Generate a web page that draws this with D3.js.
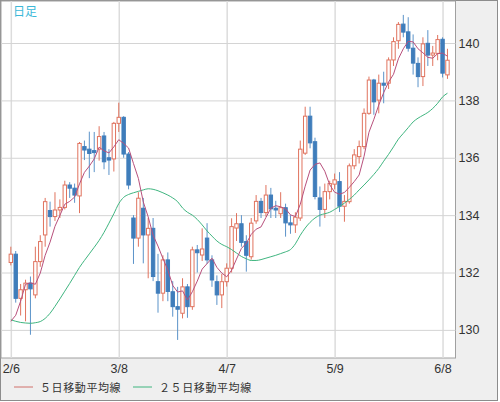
<!DOCTYPE html>
<html>
<head>
<meta charset="utf-8">
<script src="https://cdn.jsdelivr.net/npm/d3@7"></script>
<style>
  body { margin: 0; background: #fff; }
  text { font-family: "Liberation Sans", Arial, sans-serif; }
  .jp { font-family: "Noto Sans CJK JP", sans-serif; }
</style>
</head>
<body>
<script>
// daily candles, Feb 6 - Jun 9
var dates = ["2/6","2/7","2/8","2/9","2/10","2/13","2/14","2/15","2/16","2/17","2/20","2/21","2/22","2/23","2/24","2/27","2/28",
  "3/1","3/2","3/3","3/6","3/7","3/8","3/9","3/10","3/13","3/14","3/15","3/16","3/17","3/20","3/21","3/22","3/23","3/24","3/27","3/28","3/29","3/30","3/31",
  "4/3","4/4","4/5","4/6","4/7","4/10","4/11","4/12","4/13","4/14","4/17","4/18","4/19","4/20","4/21","4/24","4/25","4/26","4/27","4/28",
  "5/1","5/2","5/3","5/4","5/5","5/8","5/9","5/10","5/11","5/12","5/15","5/16","5/17","5/18","5/19","5/22","5/23","5/24","5/25","5/26","5/29","5/30","5/31",
  "6/1","6/2","6/5","6/6","6/7","6/8","6/9"];

var open = [132.35,132.64,131.10,131.40,131.63,131.22,132.38,133.31,134.16,133.95,134.18,134.27,135.05,134.94,134.67,136.39,136.30,
  136.25,136.30,136.76,136.00,135.96,137.20,137.41,136.13,133.90,133.20,134.24,133.31,133.54,131.68,131.28,132.44,131.33,130.81,130.58,131.50,130.81,132.79,132.61,
  133.20,132.44,131.68,131.22,131.68,132.15,133.55,133.70,133.08,132.55,133.80,134.48,134.09,134.70,134.24,134.05,134.26,133.73,133.66,133.90,
  136.16,137.45,136.56,134.60,134.20,134.82,135.08,135.17,134.31,134.47,135.72,136.04,136.39,137.55,138.71,138.01,138.60,138.60,139.41,140.08,140.66,140.39,139.82,
  139.29,138.83,139.99,139.58,139.64,140.13,138.89];
var high = [132.90,132.75,131.60,131.75,131.86,132.90,133.30,134.60,134.47,134.80,134.55,135.20,135.15,135.10,136.55,136.60,136.91,
  136.90,137.10,136.90,136.30,137.25,137.92,137.45,136.20,134.00,134.80,134.60,133.90,133.90,132.65,132.60,132.70,131.70,131.50,131.80,131.60,132.90,132.96,133.54,
  133.72,132.60,131.90,131.95,132.32,133.89,134.07,134.00,133.30,133.90,134.70,134.60,135.05,134.95,134.50,134.80,134.40,134.00,134.10,136.60,
  137.78,137.78,136.70,135.00,135.10,135.20,135.45,135.50,134.70,135.80,136.30,136.60,137.72,138.83,138.75,138.90,139.00,139.50,140.20,140.73,140.98,140.90,140.30,
  139.50,140.20,140.45,139.90,140.28,140.20,139.80];
var low = [132.25,130.95,130.50,130.30,129.83,131.10,132.20,132.90,133.60,133.80,133.90,134.20,134.60,134.43,134.07,135.92,135.29,
  135.50,135.90,135.60,135.40,135.52,136.90,136.00,134.90,132.30,132.90,132.32,131.80,131.70,130.60,131.00,131.00,130.46,129.65,130.40,130.42,130.70,132.00,132.40,
  132.30,131.50,130.87,130.76,131.51,132.00,133.10,132.90,132.03,132.45,133.70,133.90,133.95,133.90,133.90,133.90,133.25,133.35,133.38,133.80,
  136.10,136.33,134.55,133.60,133.90,134.55,134.90,134.11,133.77,134.40,135.60,135.80,136.30,137.50,137.50,137.55,137.90,138.40,139.20,139.80,140.20,139.70,138.90,
  138.46,138.50,139.20,139.20,139.40,138.80,138.75];
var close = [132.64,131.10,131.40,131.63,131.43,132.38,133.08,134.47,133.95,134.18,134.27,135.05,134.94,134.70,136.50,136.27,136.15,
  136.18,136.74,135.86,135.92,137.20,137.41,136.13,135.05,133.20,134.59,133.31,133.54,131.86,131.28,132.44,131.34,130.81,130.72,131.50,130.81,132.79,132.69,132.82,
  132.44,131.74,131.22,131.68,132.15,133.60,133.70,133.05,132.60,133.72,134.48,134.09,134.70,134.22,134.18,134.26,133.73,133.66,133.93,136.30,
  137.45,136.52,134.65,134.20,134.82,135.10,135.23,134.31,134.48,135.72,136.10,136.39,137.55,138.71,137.95,138.60,138.53,139.41,140.05,140.65,140.38,139.82,139.30,
  138.83,139.97,139.58,139.65,140.12,138.95,139.40];

// 5 day and 25 day averages as drawn
var ma5 = [130.30,130.51,131.00,131.59,131.64,131.59,131.98,132.60,133.06,133.61,133.99,134.38,134.48,134.63,135.09,135.49,135.71,
  135.96,136.37,136.24,136.17,136.38,136.63,136.50,136.34,135.80,135.28,134.46,133.94,133.30,132.92,132.49,132.09,131.55,131.32,131.36,131.04,131.33,131.70,132.12,
  132.31,132.50,132.18,131.98,131.85,132.08,132.47,132.84,133.02,133.33,133.51,133.59,133.92,134.24,134.33,134.29,134.22,134.01,133.95,134.38,
  135.01,135.57,135.77,135.82,135.53,135.06,134.80,134.73,134.79,134.97,135.17,135.40,136.05,136.89,137.34,137.84,138.27,138.64,138.91,139.45,139.80,140.06,140.04,
  139.80,139.66,139.50,139.47,139.63,139.65,139.54];
var ma25 = [130.35,130.30,130.26,130.24,130.23,130.25,130.29,130.40,130.58,130.82,131.08,131.35,131.62,131.90,132.18,132.42,132.65,
  132.88,133.12,133.40,133.72,134.05,134.40,134.62,134.72,134.78,134.83,134.88,134.92,134.90,134.85,134.78,134.70,134.60,134.47,134.25,134.10,134.00,133.85,133.66,
  133.45,133.27,133.10,132.98,132.90,132.80,132.68,132.56,132.48,132.42,132.42,132.45,132.50,132.55,132.60,132.66,132.72,132.80,133.00,133.30,
  133.55,133.75,133.90,134.00,134.05,134.10,134.20,134.30,134.42,134.55,134.70,134.88,135.05,135.23,135.42,135.63,135.88,136.12,136.38,136.65,136.85,137.05,137.25,
  137.38,137.48,137.58,137.72,137.90,138.12,138.25];

var xTicks = ["2/6","3/8","4/7","5/9","6/8"];
var yTicks = [130,132,134,136,138,140];

var W = 500, H = 402;
var plot = {left: 1, top: 1, right: 455.5, bottom: 358};

var svg = d3.select("body").append("svg")
    .attr("width", W)
    .attr("height", H);

svg.append("rect")
    .attr("x", 0.5).attr("y", 0.5)
    .attr("width", 497).attr("height", 400)
    .attr("fill", "#efefef")
    .attr("stroke", "#8c8c8c");

svg.append("rect")
    .attr("x", plot.left).attr("y", plot.top)
    .attr("width", plot.right - plot.left).attr("height", plot.bottom - plot.top)
    .attr("fill", "#fff")
    .attr("stroke", "#a0a0a0");

var x = d3.scalePoint()
    .domain(dates)
    .range([plot.left, plot.right])
    .padding(1.82)
    .align(0.55);

var y = d3.scaleLinear()
    .domain([129.02, 141.5])
    .range([plot.bottom, 0]);

// grid + axes
var xAxis = d3.axisBottom(x)
    .tickValues(xTicks)
    .tickSize(-(plot.bottom - plot.top))
    .tickPadding(6);

var gx = svg.append("g")
    .attr("transform", "translate(0," + plot.bottom + ")")
    .call(xAxis);
gx.select(".domain").remove();
gx.selectAll(".tick line").attr("stroke", "#dcdcdc").attr("stroke-width", 1.5);
gx.selectAll(".tick text").attr("fill", "#333").style("font-size", "12.5px");

var yAxis = d3.axisRight(y)
    .tickValues(yTicks)
    .tickSize(-(plot.right - plot.left))
    .tickPadding(3);

var gy = svg.append("g")
    .attr("transform", "translate(" + plot.right + ",0)")
    .call(yAxis);
gy.select(".domain").remove();
gy.selectAll(".tick line").attr("stroke", "#d4d4d4");
gy.selectAll(".tick text").attr("fill", "#333").style("font-size", "12.5px");

var data = dates.map(function(d, i) {
  return {date: d, o: open[i], h: high[i], l: low[i], c: close[i], m5: ma5[i], m25: ma25[i]};
});

var upCol = "#e0735e", downCol = "#3f7dbb";
var bw = 3.4;

var candles = svg.append("g").selectAll("g")
    .data(data)
  .enter().append("g");

candles.append("line")
    .attr("x1", function(d) { return x(d.date); })
    .attr("x2", function(d) { return x(d.date); })
    .attr("y1", function(d) { return y(d.h); })
    .attr("y2", function(d) { return y(d.l); })
    .attr("stroke", function(d) { return d.c >= d.o ? upCol : "#5b93c9"; })
    .attr("stroke-width", 1);

candles.append("rect")
    .attr("x", function(d) { return x(d.date) - bw / 2; })
    .attr("width", bw)
    .attr("y", function(d) { return y(Math.max(d.o, d.c)); })
    .attr("height", function(d) { return Math.max(1, Math.abs(y(d.o) - y(d.c))); })
    .attr("fill", function(d) { return d.c >= d.o ? "#fff" : downCol; })
    .attr("stroke", function(d) { return d.c >= d.o ? upCol : downCol; })
    .attr("stroke-width", 1);

var line5 = d3.line()
    .x(function(d) { return x(d.date); })
    .y(function(d) { return y(d.m5); });
var line25 = d3.line()
    .x(function(d) { return x(d.date); })
    .y(function(d) { return y(d.m25); })
    .curve(d3.curveMonotoneX);

svg.append("path")
    .datum(data)
    .attr("d", line25)
    .attr("fill", "none")
    .attr("stroke", "#3fb57f")
    .attr("stroke-width", 1);

svg.append("path")
    .datum(data)
    .attr("d", line5)
    .attr("fill", "none")
    .attr("stroke", "#b8507c")
    .attr("stroke-width", 1);

svg.append("text")
    .attr("class", "jp")
    .attr("x", 13).attr("y", 16)
    .attr("fill", "#3cb8d8")
    .style("font-size", "12px")
    .text("日足");

// legend
var legend = [
  {label: "５日移動平均線", color: "#d0706a", x: 14},
  {label: "２５日移動平均線", color: "#3fb57f", x: 133}
];
var lg = svg.append("g").selectAll("g")
    .data(legend)
  .enter().append("g");
lg.append("line")
    .attr("x1", function(d) { return d.x; })
    .attr("x2", function(d) { return d.x + 19; })
    .attr("y1", 387).attr("y2", 387)
    .attr("stroke", function(d) { return d.color; });
lg.append("text")
    .attr("class", "jp")
    .attr("x", function(d) { return d.x + 26; })
    .attr("y", 391.5)
    .attr("fill", "#333")
    .style("font-size", "11px")
    .style("letter-spacing", "0.6px")
    .text(function(d) { return d.label; });
</script>
</body>
</html>
